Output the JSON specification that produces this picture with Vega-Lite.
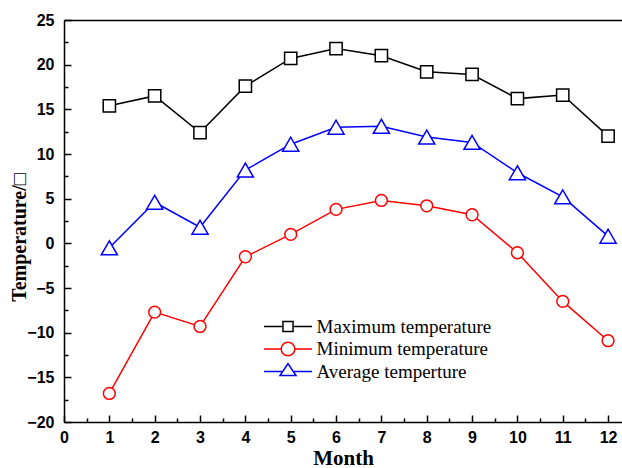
{
  "$schema": "https://vega.github.io/schema/vega-lite/v6.json",
  "width": 558,
  "height": 402,
  "autosize": "none",
  "padding": {"left": 64, "top": 20, "right": 0, "bottom": 46},
  "background": "white",
  "config": {
    "view": {"stroke": null},
    "axis": {
      "domainColor": "black", "domainWidth": 1.5, "tickColor": "black", "tickWidth": 1.5,
      "grid": false, "labelColor": "black", "titleColor": "black",
      "labelFont": "Liberation Sans", "labelFontWeight": "bold", "labelFontSize": 16,
      "titleFont": "Liberation Serif", "titleFontWeight": "bold"
    }
  },
  "data": {"values": [
    {"month": 1, "series": "Maximum temperature", "temp": 15.4},
    {"month": 2, "series": "Maximum temperature", "temp": 16.5},
    {"month": 3, "series": "Maximum temperature", "temp": 12.4},
    {"month": 4, "series": "Maximum temperature", "temp": 17.6},
    {"month": 5, "series": "Maximum temperature", "temp": 20.7},
    {"month": 6, "series": "Maximum temperature", "temp": 21.8},
    {"month": 7, "series": "Maximum temperature", "temp": 21.0},
    {"month": 8, "series": "Maximum temperature", "temp": 19.2},
    {"month": 9, "series": "Maximum temperature", "temp": 18.9},
    {"month": 10, "series": "Maximum temperature", "temp": 16.2},
    {"month": 11, "series": "Maximum temperature", "temp": 16.6},
    {"month": 12, "series": "Maximum temperature", "temp": 12.0},
    {"month": 1, "series": "Minimum temperature", "temp": -16.8},
    {"month": 2, "series": "Minimum temperature", "temp": -7.7},
    {"month": 3, "series": "Minimum temperature", "temp": -9.3},
    {"month": 4, "series": "Minimum temperature", "temp": -1.5},
    {"month": 5, "series": "Minimum temperature", "temp": 1.0},
    {"month": 6, "series": "Minimum temperature", "temp": 3.8},
    {"month": 7, "series": "Minimum temperature", "temp": 4.8},
    {"month": 8, "series": "Minimum temperature", "temp": 4.2},
    {"month": 9, "series": "Minimum temperature", "temp": 3.2},
    {"month": 10, "series": "Minimum temperature", "temp": -1.05},
    {"month": 11, "series": "Minimum temperature", "temp": -6.5},
    {"month": 12, "series": "Minimum temperature", "temp": -10.9},
    {"month": 1, "series": "Average temperture", "temp": -0.5},
    {"month": 2, "series": "Average temperture", "temp": 4.6},
    {"month": 3, "series": "Average temperture", "temp": 1.8},
    {"month": 4, "series": "Average temperture", "temp": 8.2},
    {"month": 5, "series": "Average temperture", "temp": 11.1},
    {"month": 6, "series": "Average temperture", "temp": 13.0},
    {"month": 7, "series": "Average temperture", "temp": 13.1},
    {"month": 8, "series": "Average temperture", "temp": 11.9},
    {"month": 9, "series": "Average temperture", "temp": 11.3},
    {"month": 10, "series": "Average temperture", "temp": 7.9},
    {"month": 11, "series": "Average temperture", "temp": 5.2},
    {"month": 12, "series": "Average temperture", "temp": 0.8}
  ]},
  "layer": [
    {
      "mark": {"type": "rule", "color": "#138a8a", "strokeWidth": 2, "strokeDash": [10, 4, 2, 4]},
      "encoding": {
        "y": {"datum": 0, "type": "quantitative", "axis": null},
        "x": {"datum": 0, "type": "quantitative", "scale": {"domain": [0, 12.307], "nice": false, "zero": false},
          "axis": {"orient": "top", "ticks": false, "labels": false, "title": null, "domain": true}}
      }
    },
    {
      "mark": {"type": "line", "strokeWidth": 1.5},
      "encoding": {
        "x": {"field": "month", "type": "quantitative",
          "scale": {"domain": [0, 12.307], "nice": false, "zero": false},
          "axis": {"orient": "bottom", "values": [0,1,2,3,4,5,6,7,8,9,10,11,12], "tickSize": -7, "labelPadding": 14,
            "title": "Month", "titleFontSize": 21, "titlePadding": 2, "labelFlush": false}},
        "y": {"field": "temp", "type": "quantitative",
          "scale": {"domain": [-20, 25], "nice": false, "zero": false},
          "axis": {"orient": "left", "values": [-20,-15,-10,-5,0,5,10,15,20,25], "tickSize": -7, "labelPadding": 17,
            "title": "Temperature/□", "titleFontSize": 20, "titleX": -45, "titleY": 217, "titleBaseline": "middle"}},
        "color": {"field": "series", "type": "nominal",
          "sort": ["Maximum temperature", "Minimum temperature", "Average temperture"],
          "scale": {"domain": ["Maximum temperature", "Minimum temperature", "Average temperture"], "range": ["#000000", "#ff0000", "#0000ff"]},
          "legend": {
            "orient": "none", "legendX": 212.5, "legendY": 295, "title": null, "padding": 0,
            "symbolSize": 441, "symbolStrokeWidth": 1.5, "symbolFillColor": "white",
            "labelFont": "Liberation Serif", "labelFontSize": 19, "labelColor": "black", "labelOffset": 17, "rowPadding": 0.5,
            "labelLimit": 300,
            "encode": {"symbols": {"update": {
              "shape": {"signal": "datum.value === 'Maximum temperature' ? 'M-2.29,0H-0.48M0.48,0H2.29M-0.48,-0.48H0.48V0.48H-0.48Z' : datum.value === 'Minimum temperature' ? 'M-2.29,0H-0.65M0.65,0H2.29M0.65,0A0.65,0.65,0,1,1,-0.65,0A0.65,0.65,0,1,1,0.65,0Z' : 'M-2.29,0H-0.51M0.51,0H2.29M-0.76,0.38L0,-0.76L0.76,0.38Z'"},
              "fill": {"value": "white"}
            }}}
          }}
      }
    },
    {
      "transform": [{"filter": "datum.series === 'Maximum temperature'"}],
      "mark": {"type": "point", "shape": "square", "size": 150, "filled": true, "fill": "white", "stroke": "#000000", "strokeWidth": 1.5, "opacity": 1},
      "encoding": {
        "x": {"field": "month", "type": "quantitative",
          "axis": {"orient": "bottom", "values": [0.5,1.5,2.5,3.5,4.5,5.5,6.5,7.5,8.5,9.5,10.5,11.5], "tickSize": -4, "labels": false, "domain": false, "title": null}},
        "y": {"field": "temp", "type": "quantitative",
          "axis": {"orient": "left", "values": [-17.5,-12.5,-7.5,-2.5,2.5,7.5,12.5,17.5,22.5], "tickSize": -4, "labels": false, "domain": false, "title": null}}
      }
    },
    {
      "transform": [{"filter": "datum.series === 'Minimum temperature'"}],
      "mark": {"type": "point", "shape": "circle", "size": 140, "filled": true, "fill": "white", "stroke": "#ff0000", "strokeWidth": 1.5, "opacity": 1},
      "encoding": {
        "x": {"field": "month", "type": "quantitative", "axis": null},
        "y": {"field": "temp", "type": "quantitative", "axis": null}
      }
    },
    {
      "transform": [{"filter": "datum.series === 'Average temperture'"}],
      "mark": {"type": "point", "shape": "triangle-up", "size": 260, "filled": true, "fill": "white", "stroke": "#0000ff", "strokeWidth": 1.5, "opacity": 1},
      "encoding": {
        "x": {"field": "month", "type": "quantitative", "axis": null},
        "y": {"field": "temp", "type": "quantitative", "axis": null}
      }
    }
  ],
  "resolve": {"axis": {"x": "independent", "y": "independent"}}
}
